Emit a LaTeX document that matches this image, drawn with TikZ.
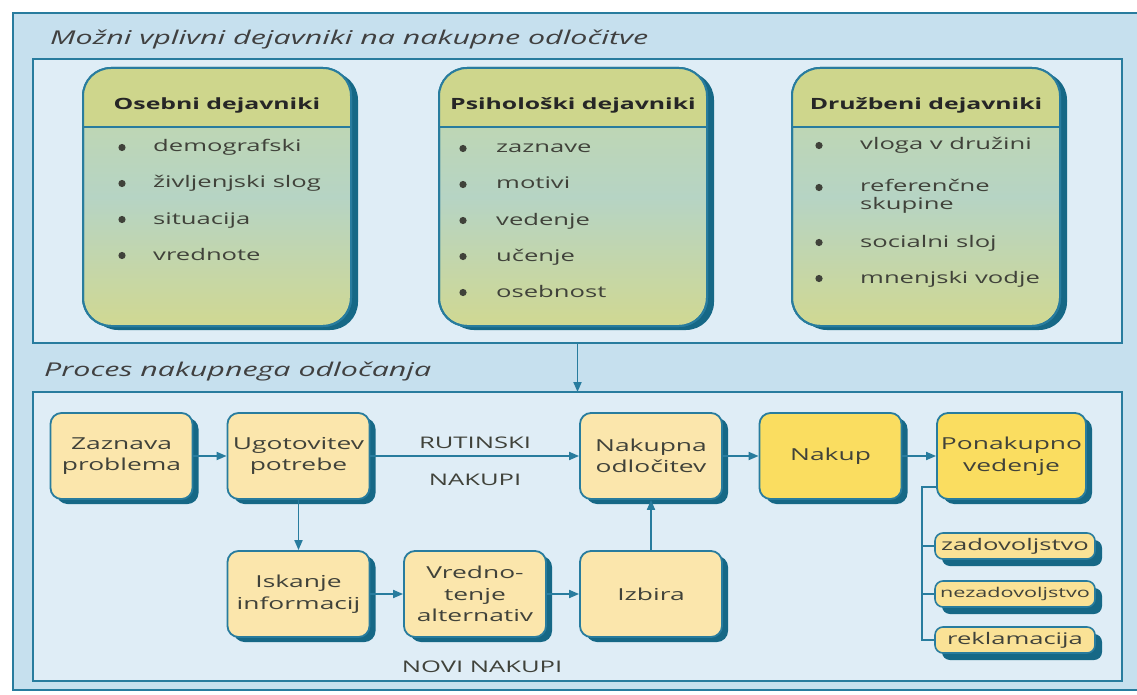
\documentclass[tikz,border=0pt]{standalone}
\usepackage{fontspec}
\setmainfont{Open Sans}[FakeStretch=1.6]
\usetikzlibrary{arrows.meta,shadows}

\definecolor{ozadje}{RGB}{198,224,238}
\definecolor{plosca}{RGB}{223,237,246}
\definecolor{rob}{RGB}{40,124,158}
\definecolor{senca}{RGB}{22,104,134}
\definecolor{glava}{RGB}{206,214,140}
\definecolor{telozg}{RGB}{196,216,168}
\definecolor{telosr}{RGB}{182,212,196}
\definecolor{telosp}{RGB}{208,216,146}
\definecolor{korak}{RGB}{251,230,172}
\definecolor{korakmoc}{RGB}{250,221,96}
\definecolor{izid}{RGB}{250,226,150}
\definecolor{besedilo}{RGB}{64,66,58}

\tikzset{
  okvir/.style={draw=rob, line width=2pt, fill=plosca, inner sep=0pt, outer sep=0pt},
  dejavnik/.style={draw=rob, line width=2pt, rounded corners=28pt, minimum width=268pt,
    minimum height=258pt, inner sep=0pt, outer sep=0pt,
    top color=telozg, bottom color=telosp, middle color=telosr,
    drop shadow={shadow xshift=7pt, shadow yshift=-4pt, opacity=1, fill=senca}},
  glavatxt/.style={font=\fontsize{15.5}{18}\selectfont\bfseries, text=black!85},
  postavka/.style={anchor=base west, inner sep=0pt, font=\fontsize{16}{19}\selectfont, text=besedilo},
  korakbox/.style={draw=rob, line width=1.8pt, rounded corners=11pt, fill=korak,
    minimum width=142pt, minimum height=86pt, align=center, inner sep=2pt, text=besedilo,
    font=\fontsize{16.5}{21.5}\selectfont,
    drop shadow={shadow xshift=6pt, shadow yshift=-5pt, opacity=1, fill=senca}},
  izidbox/.style={draw=rob, line width=1.6pt, rounded corners=8pt, fill=izid,
    minimum width=160pt, minimum height=26pt, inner sep=0pt, text=besedilo,
    font=\fontsize{16}{18}\selectfont,
    drop shadow={shadow xshift=7pt, shadow yshift=-7pt, opacity=1, fill=senca}},
  puscica/.style={draw=rob, line width=1.8pt, -{Triangle[length=10pt,width=8pt]}},
  veja/.style={draw=rob, line width=1.5pt},
  oznaka/.style={font=\fontsize{16}{19}\selectfont, text=besedilo},
  naslov/.style={anchor=base west, inner sep=0pt, font=\fontsize{19}{22}\selectfont\itshape, text=black!75},
}

\begin{document}
\begin{tikzpicture}[x=1pt,y=-1pt]
\useasboundingbox (0,0) rectangle (1137,695);
\clip (0,0) rectangle (1137,695);
\fill[white] (0,0) rectangle (1137,695);
\draw[rob, line width=2pt, fill=ozadje] (13,13) rectangle (1160,690);

% vplivni dejavniki
\node[naslov] (naslov1) at (50,45) {Možni vplivni dejavniki na nakupne odločitve};
\node[okvir, minimum width=1089pt, minimum height=284pt] (okvir1) at (577.5,201) {};
\node[naslov] (naslov2) at (44,376) {Proces nakupnega odločanja};
\node[okvir, minimum width=1089pt, minimum height=289pt] (okvir2) at (577.5,536.5) {};
\draw[puscica] (okvir1.south) -- (okvir2.north);

\node[dejavnik] (osebni) at (217,197) {};
\node[dejavnik] (psiho) at (573,197) {};
\node[dejavnik] (druzb) at (926,197) {};
\foreach \b in {osebni,psiho,druzb}{
  \begin{scope}
    \clip[rounded corners=28pt] (\b.north west) rectangle (\b.south east);
    \fill[glava] (\b.north west) rectangle ([yshift=-59pt]\b.north east);
  \end{scope}
  \draw[rob, line width=2pt, rounded corners=28pt] (\b.north west) rectangle (\b.south east);
  \draw[rob, line width=1.5pt] ([yshift=-59pt]\b.north west) -- ([yshift=-59pt]\b.north east);
}
\node[glavatxt] (osebniG) at ([yshift=-37pt]osebni.north) {Osebni dejavniki};
\node[glavatxt] (psihoG) at ([yshift=-37pt]psiho.north) {Psihološki dejavniki};
\node[glavatxt] (druzbG) at ([yshift=-37pt]druzb.north) {Družbeni dejavniki};

\foreach \t [count=\i] in {demografski, življenjski slog, situacija, vrednote}{
  \fill[besedilo] (122,{111.5+36*\i}) circle (3.6pt);
  \node[postavka] (os\i) at (153,{116+36*\i}) {\t};
}
\foreach \t [count=\i] in {zaznave, motivi, vedenje, učenje, osebnost}{
  \fill[besedilo] (463,{112.5+36*\i}) circle (3.6pt);
  \node[postavka] (ps\i) at (496,{117+36*\i}) {\t};
}
\fill[besedilo] (819,145.5) circle (3.6pt);
\node[postavka] (dr1) at (860,150) {vloga v družini};
\fill[besedilo] (819,187.5) circle (3.6pt);
\node[postavka] (dr2) at (860,192) {referenčne};
\node[postavka] (dr2b) at (860,210) {skupine};
\fill[besedilo] (819,242.5) circle (3.6pt);
\node[postavka] (dr3) at (860,247) {socialni sloj};
\fill[besedilo] (819,278.5) circle (3.6pt);
\node[postavka] (dr4) at (860,283) {mnenjski vodje};

% proces
\node[korakbox] (zaznava) at (121.5,456) {Zaznava\\problema};
\node[korakbox] (ugotov) at (298.5,456) {Ugotovitev\\potrebe};
\node[korakbox] (nakodl) at (651,456) {Nakupna\\odločitev};
\node[korakbox, fill=korakmoc] (nakup) at (830.5,456) {Nakup};
\node[korakbox, fill=korakmoc, minimum width=149pt] (ponak) at (1011.5,456) {Ponakupno\\vedenje};
\node[korakbox] (iskanje) at (298.5,594) {Iskanje\\informacij};
\node[korakbox] (vredn) at (475,594) {Vredno-\\tenje\\alternativ};
\node[korakbox] (izbira) at (651,594) {Izbira};

\node[izidbox] (zadov) at (1015,546) {zadovoljstvo};
\node[izidbox, font=\fontsize{13.5}{16}\selectfont] (nezadov) at (1015,594) {nezadovoljstvo};
\node[izidbox] (reklam) at (1015,640) {reklamacija};

\draw[puscica] (zaznava) -- (ugotov);
\draw[puscica] (ugotov) -- (nakodl);
\draw[puscica] (nakodl) -- (nakup);
\draw[puscica] (nakup) -- (ponak);
\draw[puscica] (ugotov) -- (iskanje);
\draw[puscica] (iskanje) -- (vredn);
\draw[puscica] (vredn) -- (izbira);
\draw[puscica] (izbira) -- (nakodl);

\node[oznaka] (rut) at (475,443) {RUTINSKI};
\node[oznaka] (rutnak) at (475,480) {NAKUPI};
\node[oznaka] (novi) at (482,667) {NOVI NAKUPI};

\draw[veja] ([yshift=-31pt]ponak.west) -- ++(-14,0) coordinate (deblo) |- (reklam.west);
\draw[veja] (deblo |- zadov.west) -- (zadov.west);
\draw[veja] (deblo |- nezadov.west) -- (nezadov.west);
\end{tikzpicture}
\end{document}
